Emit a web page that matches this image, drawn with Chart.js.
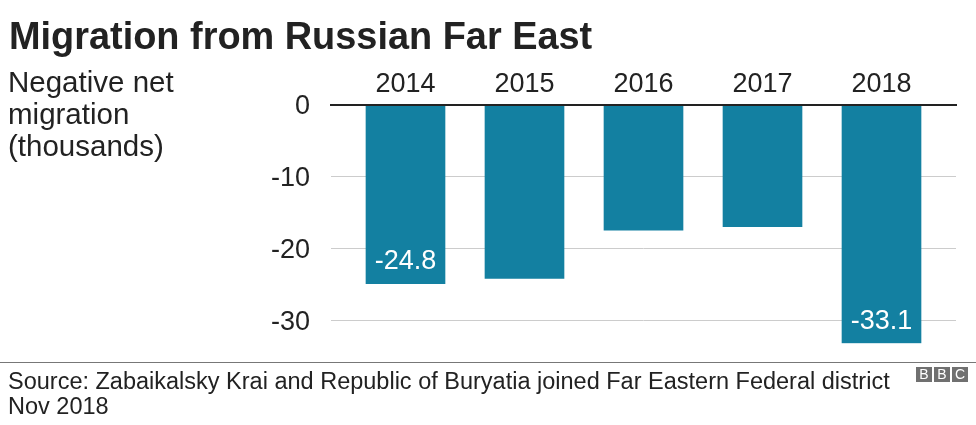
<!DOCTYPE html>
<html><head><meta charset="utf-8">
<style>
html,body{margin:0;padding:0;background:#fff;width:976px;height:425px;overflow:hidden;font-family:"Liberation Sans",Arial,sans-serif;color:#222}
#c{position:absolute;left:0;top:0}
.t{position:absolute;white-space:pre;color:#222}
#rule{position:absolute;left:0;top:362px;width:976px;height:1px;background:#777}
.b{position:absolute;top:367px;width:16px;height:15px;background:#707070;color:#fff;font:14px/15px "Liberation Sans";text-align:center}
</style>
<script src="https://cdn.jsdelivr.net/npm/chart.js@4"></script>
</head><body>
<canvas id="c" width="976" height="425" style="width:976px;height:425px"></canvas>
<div class="t" style="left:9px;top:14px;font:bold 37.9px/44px 'Liberation Sans'">Migration from Russian Far East</div>
<div class="t" style="left:8px;top:66px;font:29.5px/32px 'Liberation Sans'">Negative net
migration
(thousands)</div>
<div id="rule"></div>
<div class="t" style="left:8px;top:369px;font:23.5px/25px 'Liberation Sans'">Source: Zabaikalsky Krai and Republic of Buryatia joined Far Eastern Federal district
Nov 2018</div>
<div class="b" style="left:916px">B</div><div class="b" style="left:934px">B</div><div class="b" style="left:952px">C</div>
<script>
const categories=['2014','2015','2016','2017','2018'];
const values=[-24.8,-24.1,-17.4,-16.9,-33.1];
const labelled=['-24.8','','','','-33.1'];
const tickValues=[0,-10,-20,-30];
const points=categories.map((c,i)=>({x:Number(c),y:values[i]}));
const valueLabels={id:'valueLabels',afterDatasetsDraw(ch){
 const c=ch.ctx,m=ch.getDatasetMeta(0);c.save();c.fillStyle='#fff';c.font='27px "Liberation Sans"';c.textAlign='center';c.textBaseline='middle';
 m.data.forEach((b,i)=>{if(labelled[i])c.fillText(labelled[i],b.x,b.y-22)});c.restore();}};
new Chart(document.getElementById('c'),{type:'bar',
 data:{datasets:[{data:points,backgroundColor:'#1380A1',barThickness:79}]},
 plugins:[valueLabels],
 options:{responsive:false,animation:false,
  layout:{padding:{left:0,right:20,top:0,bottom:81.7}},
  plugins:{legend:{display:false},tooltip:{enabled:false}},
  scales:{
   x:{type:'linear',position:'top',offset:false,min:2013.374,max:2018.626,
      afterBuildTicks(a){a.ticks=categories.map(c=>({value:Number(c)}))},
      afterFit(s){s.height=105},
      grid:{display:false,drawTicks:false},
      border:{display:true,color:'#222',width:2,z:1},
      ticks:{color:'#222',font:{size:27,family:'Liberation Sans'},padding:4,maxRotation:0,autoSkip:false,callback:v=>String(v)}},
   y:{min:-33.1,max:0,afterBuildTicks(a){a.ticks=tickValues.map(v=>({value:v}))},
      afterFit(s){s.width=331},
      grid:{color:(x)=>x.tick.value===0?'rgba(0,0,0,0)':'#cccccc',lineWidth:1,drawTicks:false},
      border:{display:false},
      ticks:{color:'#222',font:{size:27,family:'Liberation Sans'},padding:21,labelOffset:2,autoSkip:false,callback:v=>String(v)}}
  }}});
</script>
</body></html>
